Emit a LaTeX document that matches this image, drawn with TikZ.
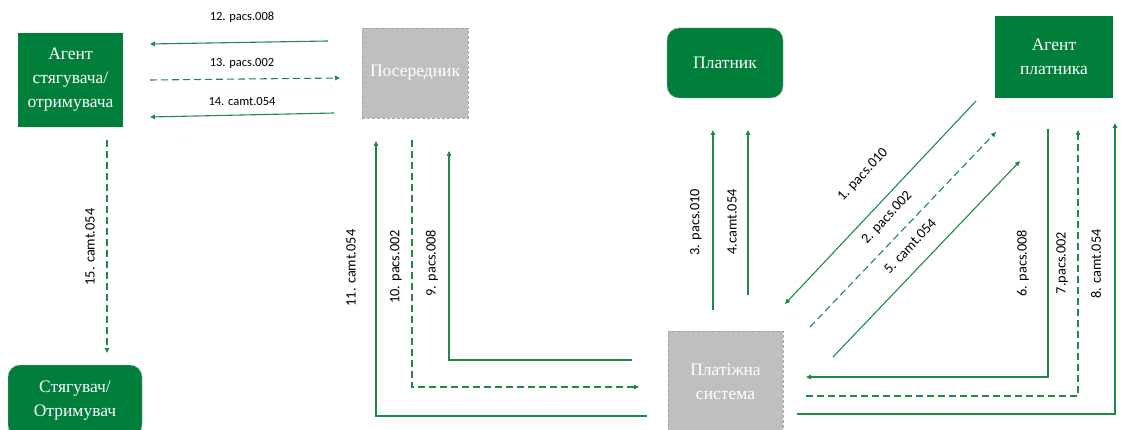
\documentclass[tikz,border=0pt]{standalone}
\usepackage{fontspec}
\setmainfont{Liberation Serif}
\newfontfamily\labelfont{Carlito}
\usetikzlibrary{arrows.meta}
\definecolor{boxgreen}{HTML}{007F3B}
\definecolor{linegreen}{HTML}{1E8A46}
\definecolor{boxgray}{HTML}{BFBFBF}
\definecolor{edgegray}{HTML}{A6A6A6}
\tikzset{
  party/.style={fill=boxgreen, text=white, align=center, inner sep=2pt,
    font=\fontsize{17.5}{24}\selectfont},
  partyround/.style={party, draw=edgegray, rounded corners=12pt},
  hub/.style={fill=boxgray, draw=edgegray, densely dashed, thin, text=white,
    align=center, font=\fontsize{17.5}{24}\selectfont},
  msg/.style={draw=linegreen, line width=1.1pt, -{Triangle[length=5pt,width=4.5pt]}},
  msgd/.style={msg, dash pattern=on 7pt off 4pt},
  lbl/.style={font=\labelfont\fontsize{12.5}{14}\selectfont, inner sep=0pt},
  lblr/.style={font=\labelfont\fontsize{14.3}{16}\selectfont, inner sep=0pt},
}
\begin{document}
\begin{tikzpicture}[x=1pt, y=-1pt]
  \useasboundingbox (0,0) rectangle (1126,430);
  % parties
  \node[party, minimum width=105pt, minimum height=94pt] (ast) at (70.5,80)
    {Агент\\стягувача/\\отримувача};
  \node[hub, minimum width=106pt, minimum height=90pt] (pos) at (415,73) {Посередник};
  \node[partyround, minimum width=116pt, minimum height=70pt] (pla) at (725,63) {Платник};
  \node[party, minimum width=118pt, minimum height=82pt] (apl) at (1054,57)
    {Агент\\платника};
  \node[partyround, minimum width=134pt, minimum height=72pt] (str) at (75,401)
    {Стягувач/\\Отримувач};
  \node[hub, minimum width=115pt, minimum height=102pt] (sys) at (725.5,382)
    {Платіжна\\система};
  % end points of the messages
  \path
    (328,41) coordinate (m12a)   (150,44) coordinate (m12b)
    (150,80) coordinate (m13a)   (340,78) coordinate (m13b)
    (334,113) coordinate (m14a)  (150,117) coordinate (m14b)
    (107,140) coordinate (m15a)  (107,353) coordinate (m15b)
    (647,416) coordinate (m11a)  (376,416) coordinate (m11c)  (376,141) coordinate (m11b)
    (412,140) coordinate (m10a)  (412,387) coordinate (m10c)  (639,387) coordinate (m10b)
    (632,360) coordinate (m9a)   (449,360) coordinate (m9c)   (449,151) coordinate (m9b)
    (713,310) coordinate (m3a)   (713,130) coordinate (m3b)
    (748,295) coordinate (m4a)   (748,130) coordinate (m4b)
    (976,101) coordinate (m1a)   (785,304) coordinate (m1b)
    (810,327) coordinate (m2a)   (996,132) coordinate (m2b)
    (833,357) coordinate (m5a)   (1020,161) coordinate (m5b)
    (1048,129) coordinate (m6a)  (1048,377) coordinate (m6c)  (806,377) coordinate (m6b)
    (806,396) coordinate (m7a)   (1078,396) coordinate (m7c)  (1078,130) coordinate (m7b)
    (797,414) coordinate (m8a)   (1115,414) coordinate (m8c)  (1115,123) coordinate (m8b);
  % messages
  \begin{scope}
    \draw[msg] (m12a) -- (m12b);
    \draw[msgd] (m13a) -- (m13b);
    \draw[msg] (m14a) -- (m14b);
    \draw[msgd] (m15a) -- (m15b);
    \draw[msg] (m11a) -- (m11c) -- (m11b);
    \draw[msgd] (m10a) -- (m10c) -- (m10b);
    \draw[msg] (m9a) -- (m9c) -- (m9b);
    \draw[msg] (m3a) -- (m3b);
    \draw[msg] (m4a) -- (m4b);
    \draw[msg] (m1a) -- (m1b);
    \draw[msgd] (m2a) -- (m2b);
    \draw[msg] (m5a) -- (m5b);
    \draw[msg] (m6a) -- (m6c) -- (m6b);
    \draw[msgd] (m7a) -- (m7c) -- (m7b);
    \draw[msg] (m8a) -- (m8c) -- (m8b);
  \end{scope}
  % labels
  \node[lbl] (l12) at (242,17) {12. pacs.008};
  \node[lbl] (l13) at (242,63) {13. pacs.002};
  \node[lbl] (l14) at (242,101) {14. camt.054};
  \node[lblr, rotate=90] (l15) at (90,247) {15. camt.054};
  \node[lblr, rotate=90] (l11) at (351,268) {11. camt.054};
  \node[lblr, rotate=90] (l10) at (396,267) {10. pacs.002};
  \node[lblr, rotate=90] (l9) at (432,263) {9. pacs.008};
  \node[lblr, rotate=90] (l3) at (696,222) {3. pacs.010};
  \node[lblr, rotate=90] (l4) at (732,222) {4.camt.054};
  \node[lblr, rotate=47] (l1) at (863,175) {1. pacs.010};
  \node[lblr, rotate=47] (l2) at (887,218) {2. pacs.002};
  \node[lblr, rotate=47] (l5) at (910,246) {5. camt.054};
  \node[lblr, rotate=90] (l6) at (1023,263) {6. pacs.008};
  \node[lblr, rotate=90] (l7) at (1062,263) {7.pacs.002};
  \node[lblr, rotate=90] (l8) at (1096,264) {8. camt.054};
\end{tikzpicture}
\end{document}
